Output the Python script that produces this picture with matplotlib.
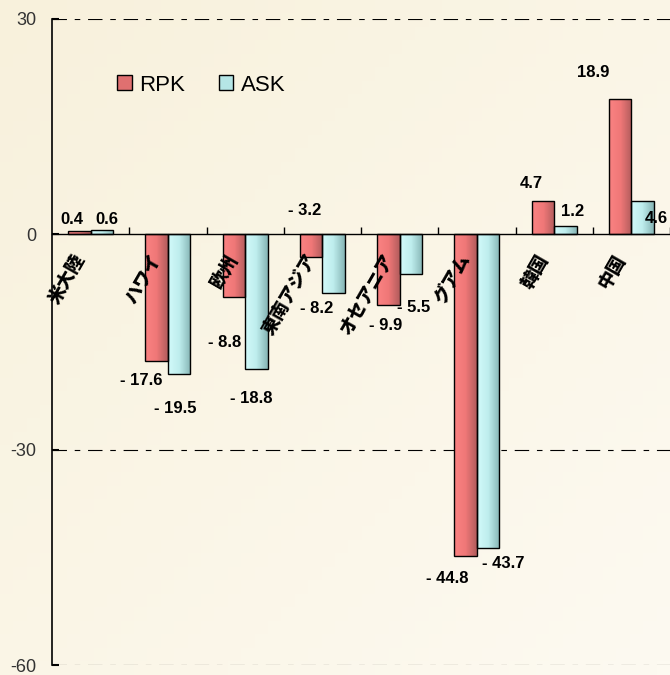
import numpy as np
import matplotlib
matplotlib.use('Agg')
import matplotlib.pyplot as plt
from matplotlib.colors import LinearSegmentedColormap
from matplotlib.patches import Patch

plt.rcParams['font.family'] = ['Liberation Sans', 'Noto Sans CJK JP', 'DejaVu Sans']

categories = ['米大陸', 'ハワイ', '欧州', '東南アジア', 'オセアニア', 'グアム', '韓国', '中国']
rpk = [0.4, -17.6, -8.8, -3.2, -9.9, -44.8, 4.7, 18.9]
ask = [0.6, -19.5, -18.8, -8.2, -5.5, -43.7, 1.2, 4.6]
yticks = [30, 0, -30, -60]

# label offsets (data units) relative to bar end
rpk_off = [(-0.1, 1.7), (-0.2, -2.8), (-0.12, -6.3), (-0.09, 6.55), (-0.04, -2.8), (-0.24, -3.1), (-0.15, 2.4), (-0.35, 3.7)]
ask_off = [(0.07, 1.5), (-0.05, -4.8), (-0.07, -4.1), (-0.22, -2.1), (0.03, -4.7), (0.19, -2.2), (0.1, 2.0), (0.18, -2.4)]

bg = '#FAF4E3'
fig = plt.figure(figsize=(6.7, 6.75), dpi=100, facecolor=bg)

# soft background gradient
bgax = fig.add_axes([0, 0, 1, 1], zorder=-1)
gx, gy = np.meshgrid(np.linspace(0, 1, 50), np.linspace(0, 1, 50))
bgax.imshow(gx * 0.5 + gy * 0.5, cmap=LinearSegmentedColormap.from_list('bg', ['#F8F1DC', '#FDFAF1']),
            extent=[0, 1, 0, 1], aspect='auto', origin='upper')
bgax.axis('off')

ax = fig.add_axes([52 / 670, 10 / 675, 1 - 52 / 670, 646 / 675])
ax.patch.set_alpha(0)

x = np.arange(len(categories))
w = 0.29
red_cmap = LinearSegmentedColormap.from_list('r', ['#FA8282', '#F07878', '#B25C5C'])
cyan_cmap = LinearSegmentedColormap.from_list('c', ['#D2FAFA', '#BEEDED', '#86B5B5'])

b1 = ax.bar(x - w / 2, rpk, w, facecolor='none', edgecolor='black', linewidth=1, zorder=3)
b2 = ax.bar(x + w / 2, ask, w, facecolor='none', edgecolor='black', linewidth=1, zorder=3)

grad = np.linspace(0, 1, 64).reshape(1, -1)
for bars, cm in ((b1, red_cmap), (b2, cyan_cmap)):
    for b in bars:
        x0, y0 = b.get_x(), b.get_y()
        bw, bh = b.get_width(), b.get_height()
        im = ax.imshow(grad, cmap=cm, extent=[x0, x0 + bw, min(y0, y0 + bh), max(y0, y0 + bh)],
                       aspect='auto', zorder=2)
        im.set_clip_path(b)

ax.set_xlim(-0.5, 7.5)
ax.set_ylim(-60, 30)

for v in (30, -30, -60):
    ax.axhline(v, color='black', lw=0.8, linestyle=(0, (13, 7, 5, 7)), zorder=1)

ax.spines['top'].set_visible(False)
ax.spines['right'].set_visible(False)
ax.spines['bottom'].set_position(('data', 0))
ax.spines['left'].set_linewidth(1.2)
ax.spines['bottom'].set_linewidth(1)
ax.set_xticks(np.arange(0.5, 8, 1))
ax.set_xticklabels([])
ax.tick_params(axis='x', direction='in', length=5, width=1)
ax.set_yticks(yticks)
ax.set_yticklabels([str(t) for t in yticks], fontsize=13, color='#333333')
ax.tick_params(axis='y', direction='in', length=5, width=1.5, pad=11)

for i, name in enumerate(categories):
    ax.text(i - 0.03, -2.3, name, rotation=60, ha='right', va='top', fontsize=13,
            fontweight='black', family=['Noto Sans CJK JP', 'DejaVu Sans'], zorder=4)

def fmt(v):
    return ('- %.1f' % abs(v)) if v < 0 else '%.1f' % v

for vals, offs, sign in ((rpk, rpk_off, -1), (ask, ask_off, 1)):
    for i, (v, (dx, dy)) in enumerate(zip(vals, offs)):
        ax.text(i + sign * w / 2 + dx, v + dy, fmt(v), ha='center', va='center',
                fontsize=12, fontweight='bold', zorder=5)

handles = [Patch(facecolor='#E07070', edgecolor='black', label='RPK'),
           Patch(facecolor='#B5E6E6', edgecolor='black', label='ASK')]
ax.legend(handles=handles, loc='upper left', bbox_to_anchor=(0.073, 0.945), ncol=2, frameon=False,
          fontsize=16, handlelength=0.65, handleheight=0.65, handletextpad=0.35, columnspacing=1.5)

fig.savefig('out.png', dpi=100, facecolor=bg)
